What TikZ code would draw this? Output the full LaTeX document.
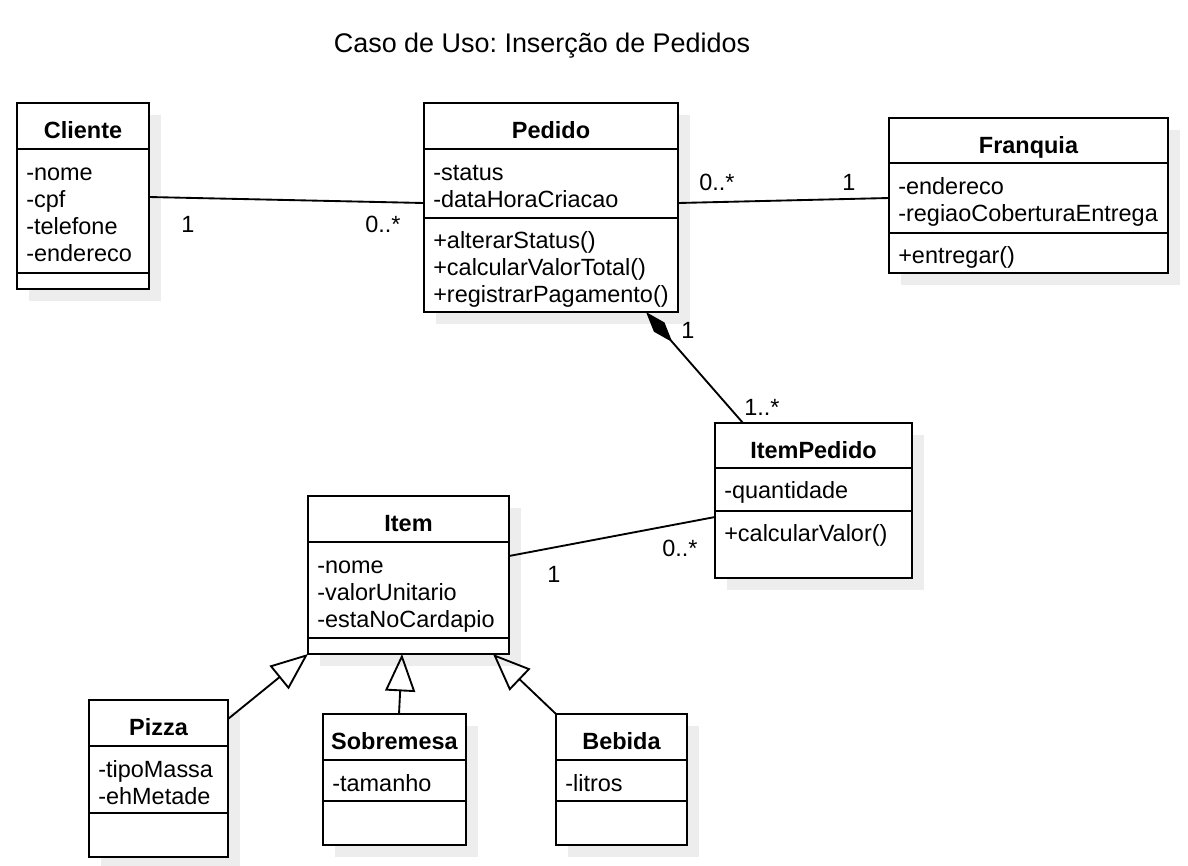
\documentclass[tikz,border=0pt]{standalone}
\usepackage{fontspec}
\setmainfont{Liberation Sans}
\usetikzlibrary{arrows.meta}
\frenchspacing
\tikzset{
  ln/.style={line width=1.4pt, black},
  shadowfill/.style={fill=black!7},
  clsbox/.style={draw, ln, fill=white, inner sep=0pt, outer sep=0pt, anchor=north west},
  ttl/.style={font=\fontsize{17.6}{20}\selectfont\bfseries, inner sep=0pt, anchor=base},
  txt/.style={font=\fontsize{17.6}{20}\selectfont, inner sep=0pt, anchor=base west},
  mult/.style={font=\fontsize{17.6}{20}\selectfont, inner sep=0pt, anchor=base},
  heading/.style={font=\fontsize{20.2}{24}\selectfont, inner sep=0pt, anchor=base},
  inh/.style={ln, -{Triangle[open, length=28pt, width=22.5pt]}},
  comp/.style={ln, -{Diamond[length=30pt, width=10.5pt]}},
}
% #1 name, #2 x1, #3 y1, #4 x2, #5 y2, #6 sep1, #7 sep2, #8 title, #9 title baseline
\newcommand\umlcls[9]{%
  \fill[shadowfill] ({#2+12},{#3+12}) rectangle ({#4+12},{#5+12});
  \node[clsbox, minimum width={(#4-#2)*0.75pt}, minimum height={(#5-#3)*0.75pt}] (#1) at (#2,#3) {};
  \draw[ln] (#1.west |- 0,#6) -- (#1.east |- 0,#6);
  \draw[ln] (#1.west |- 0,#7) -- (#1.east |- 0,#7);
  \node[ttl] (#1-t) at (#1.north |- 0,#9) {#8};
}
% #1 prefix, #2 x, #3 first baseline, #4 list
\newcommand\umllines[4]{%
  \foreach \t [count=\i] in {#4} {\node[txt] (#1\i) at (#2,{#3+27*(\i-1)}) {\t};}
}
\begin{document}
\begin{tikzpicture}[x=0.75pt, y=-0.75pt]
\path[use as bounding box, fill=white] (0,0) rectangle (1188,865);

\node[heading] (title) at (542,52) {Caso de Uso: Inserção de Pedidos};

% Cliente
\umlcls{cliente}{17}{103}{149}{289}{149}{273}{Cliente}{138}
\umllines{cliente-a}{26}{180}{-nome,-cpf,-telefone,-endereco}

% Pedido
\umlcls{pedido}{424}{103}{678}{312}{149}{218}{Pedido}{138}
\umllines{pedido-a}{433}{180}{-status,-dataHoraCriacao}
\umllines{pedido-m}{433}{248}{+alterarStatus(),+calcularValorTotal(),+registrarPagamento()}

% Franquia
\umlcls{franquia}{889}{118}{1168}{273}{163}{233}{Franquia}{153}
\umllines{franquia-a}{898}{194}{-endereco,-regiaoCoberturaEntrega}
\umllines{franquia-m}{898}{263}{+entregar()}

% ItemPedido
\umlcls{itempedido}{715}{423}{912}{578}{468}{511}{ItemPedido}{458}
\umllines{itempedido-a}{724}{498}{-quantidade}
\umllines{itempedido-m}{724}{541}{+calcularValor()}

% Item
\umlcls{item}{308}{496}{509}{654}{542}{638}{Item}{531}
\umllines{item-a}{317}{573}{-nome,-valorUnitario,-estaNoCardapio}

% Pizza
\umlcls{pizza}{89}{700}{228}{857}{746}{813}{Pizza}{735}
\umllines{pizza-a}{98}{777}{-tipoMassa,-ehMetade}

% Sobremesa
\umlcls{sobremesa}{323}{714}{466}{845}{760}{801}{Sobremesa}{749}
\umllines{sobremesa-a}{332}{791}{-tamanho}

% Bebida
\umlcls{bebida}{556}{714}{687}{845}{760}{801}{Bebida}{749}
\umllines{bebida-a}{565}{791}{-litros}

% connectors
\draw[ln] (cliente.east |- 0,197) -- (pedido.west |- 0,203);
\draw[ln] (pedido.east |- 0,203) -- (franquia.west |- 0,198);
\draw[comp] (itempedido.north -| 743,0) -- (pedido.south -| 646,0);
\draw[ln] (item.east |- 0,556) -- (itempedido.west |- 0,517);
\draw[inh] (pizza.east |- 0,719) -- (item.south west);
\draw[inh] (sobremesa.north -| 399,0) -- (item.south -| 402,0);
\draw[inh] (bebida.north west) -- (item.south -| 493,0);

% multiplicities
\node[mult] (m1) at (188,232) {1};
\node[mult] (m2) at (383,232) {0..*};
\node[mult] (m3) at (717,190) {0..*};
\node[mult] (m4) at (849,190) {1};
\node[mult] (m5) at (688,338) {1};
\node[mult] (m6) at (762,415) {1..*};
\node[mult] (m7) at (554,582) {1};
\node[mult] (m8) at (680,556) {0..*};
\end{tikzpicture}
\end{document}
